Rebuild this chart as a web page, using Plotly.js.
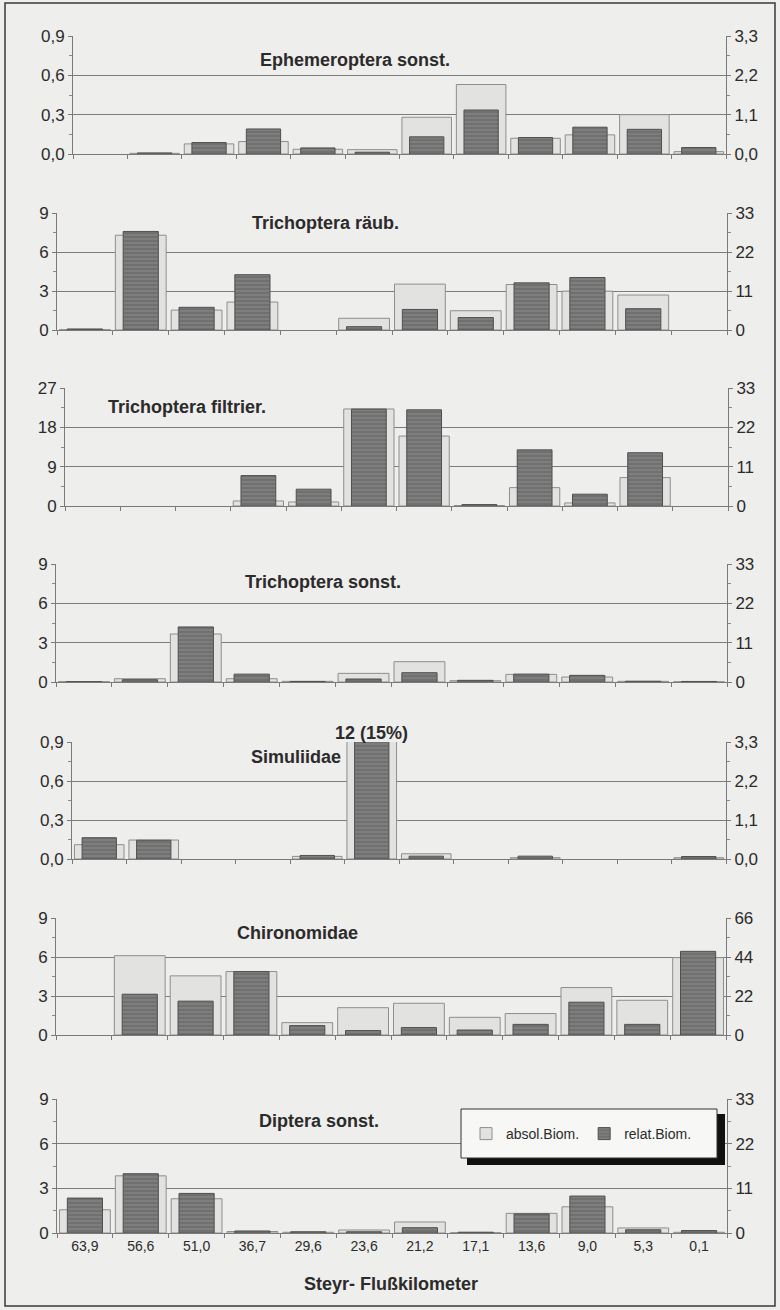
<!DOCTYPE html>
<html>
<head>
<meta charset="utf-8">
<script src="https://cdn.plot.ly/plotly-3.0.1.min.js"></script>
<style>
html,body{margin:0;padding:0;background:#eeeeec;}
#chart{width:780px;height:1310px;}
</style>
</head>
<body>
<div id="chart"></div>
<script>
// ---------- data ----------
const categories = ["63,9","56,6","51,0","36,7","29,6","23,6","21,2","17,1","13,6","9,0","5,3","0,1"];
const panelTitles = ["Ephemeroptera sonst.","Trichoptera räub.","Trichoptera filtrier.","Trichoptera sonst.","Simuliidae","Chironomidae","Diptera sonst."];
const seriesNames = ["absol.Biom.","relat.Biom."];

const ephemAbs = [0, 0.005, 0.077, 0.095, 0.036, 0.033, 0.28, 0.53, 0.12, 0.146, 0.30, 0.018];
const ephemRel = [0, 0.03, 0.32, 0.70, 0.17, 0.05, 0.48, 1.23, 0.46, 0.75, 0.69, 0.18];

const traeubAbs = [0.03, 7.29, 1.53, 2.15, 0, 0.9, 3.53, 1.48, 3.5, 2.99, 2.69, 0];
const traeubRel = [0.3, 27.8, 6.4, 15.6, 0, 0.94, 5.8, 3.5, 13.3, 14.8, 6.0, 0];

const tfiltAbs = [0, 0, 0, 1.15, 0.92, 22.2, 16.0, 0.1, 4.2, 0.7, 6.5, 0];
const tfiltRel = [0, 0, 0, 8.5, 4.7, 27.1, 26.9, 0.4, 15.7, 3.3, 14.9, 0];

const tsonstAbs = [0.03, 0.25, 3.66, 0.25, 0.05, 0.66, 1.55, 0.1, 0.58, 0.38, 0.05, 0.02];
const tsonstRel = [0.1, 0.65, 15.4, 2.2, 0.15, 0.84, 2.6, 0.47, 2.2, 1.86, 0.2, 0.15];

const simAbs = [0.11, 0.146, 0, 0, 0.02, 12, 0.04, 0, 0.01, 0, 0, 0.01];
const simRel = [0.6, 0.53, 0, 0, 0.1, 15, 0.08, 0, 0.08, 0, 0, 0.07];

const chiroAbs = [0, 6.1, 4.55, 4.88, 0.95, 2.1, 2.44, 1.36, 1.65, 3.65, 2.67, 5.95];
const chiroRel = [0, 23.0, 19.1, 35.8, 5.3, 2.5, 4.2, 2.8, 6.0, 18.5, 6.0, 47.2];

const dipAbs = [1.56, 3.84, 2.3, 0.1, 0.05, 0.2, 0.74, 0.02, 1.32, 1.76, 0.34, 0.05];
const dipRel = [8.6, 14.6, 9.75, 0.5, 0.3, 0.3, 1.3, 0.2, 4.7, 9.1, 0.8, 0.6];

const absSeries = [ephemAbs, traeubAbs, tfiltAbs, tsonstAbs, simAbs, chiroAbs, dipAbs];
const relSeries = [ephemRel, traeubRel, tfiltRel, tsonstRel, simRel, chiroRel, dipRel];

const leftMax  = [0.9, 9, 27, 9, 0.9, 9, 9];
const leftStep = [0.3, 3, 9, 3, 0.3, 3, 3];
const rightMax  = [3.3, 33, 33, 33, 3.3, 66, 33];
const rightStep = [1.1, 11, 11, 11, 1.1, 22, 11];
const offScaleNote = "12 (15%)";
const xAxisTitle = "Steyr- Flußkilometer";

// ---------- layout geometry (pixels) ----------
const W = 780, H = 1310;
const geom = [
  {l:73, r:726, t:36,   b:154,  tx:355, ty:60},
  {l:57, r:727, t:213,  b:330,  tx:325, ty:223},
  {l:65, r:728, t:388,  b:506,  tx:187, ty:407},
  {l:56, r:727, t:564,  b:682,  tx:323, ty:582},
  {l:72, r:726, t:742,  b:859,  tx:296, ty:757},
  {l:56, r:726, t:918,  b:1035, tx:297, ty:933},
  {l:57, r:727, t:1099, b:1233, tx:319, ty:1121}
];
const px = x => x / W;
const py = y => 1 - y / H;
const hideZero = arr => arr.map(v => (v === 0 ? null : v));

const FONT = "Liberation Sans, Arial, sans-serif";
const txtColor = "#2b2b2b";
const lightFill = "#e2e2e0", lightLine = "#8e8e8e";
const darkFill = "#707070", darkLine = "#505050";

const traces = [];
const layout = {
  width: W, height: H,
  margin: {l:0, r:0, t:0, b:0},
  paper_bgcolor: "#eeeeec",
  plot_bgcolor: "#eeeeec",
  separators: ",.",
  barmode: "overlay",
  showlegend: true,
  font: {family: FONT, color: txtColor},
  annotations: [],
  shapes: []
};

for (let i = 0; i < 7; i++) {
  const g = geom[i];
  const xn = i === 0 ? "" : String(i + 1);
  const yl = String(2 * i + 1), yr = String(2 * i + 2);
  const xKey = "xaxis" + xn, ylKey = "yaxis" + (yl === "1" ? "" : yl), yrKey = "yaxis" + yr;
  const xRef = "x" + xn, ylRef = "y" + (yl === "1" ? "" : yl), yrRef = "y" + yr;
  const isLast = i === 6;
  const decimals = leftStep[i] < 1 ? ".1f" : "d";
  const rdec = rightStep[i] < 2 ? ".1f" : "d";

  layout[xKey] = {
    domain: [px(g.l), px(g.r)],
    anchor: ylRef,
    type: "category",
    categoryorder: "array",
    categoryarray: categories,
    range: [-0.5, 11.5],
    tickson: "boundaries",
    ticks: "outside", ticklen: 4, tickcolor: "#7a7a7a",
    showline: true, linecolor: "#7a7a7a", linewidth: 1,
    showgrid: false, zeroline: false,
    showticklabels: isLast,
    tickfont: {family: FONT, size: 14, color: txtColor},
    fixedrange: true
  };
  layout[ylKey] = {
    domain: [py(g.b), py(g.t)],
    anchor: xRef,
    range: [0, leftMax[i]],
    tick0: 0, dtick: leftStep[i],
    tickformat: decimals,
    showgrid: true, gridcolor: "#7c7c7c", gridwidth: 1,
    zeroline: false,
    showline: true, linecolor: "#7a7a7a", linewidth: 1,
    ticks: "outside", ticklen: 4, tickcolor: "#7a7a7a",
    minor: {ticks: "outside", ticklen: 3, tickcolor: "#8a8a8a", dtick: leftStep[i] / 2, tick0: 0, showgrid: false},
    tickfont: {family: FONT, size: 17, color: txtColor},
    fixedrange: true
  };
  layout[yrKey] = {
    overlaying: ylRef,
    anchor: xRef,
    side: "right",
    range: [0, rightMax[i]],
    tick0: 0, dtick: rightStep[i],
    tickformat: rdec,
    showgrid: false, zeroline: false,
    showline: true, linecolor: "#7a7a7a", linewidth: 1,
    ticks: "outside", ticklen: 4, tickcolor: "#7a7a7a",
    minor: {ticks: "outside", ticklen: 3, tickcolor: "#8a8a8a", dtick: rightStep[i] / 2, tick0: 0, showgrid: false},
    tickfont: {family: FONT, size: 17, color: txtColor},
    fixedrange: true
  };

  traces.push({
    type: "bar", name: seriesNames[0],
    x: categories, y: hideZero(absSeries[i]),
    xaxis: xRef, yaxis: ylRef,
    width: 0.91,
    marker: {color: lightFill, line: {color: lightLine, width: 1}},
    showlegend: isLast, legendrank: 1,
    hoverinfo: "x+y"
  });
  traces.push({
    type: "bar", name: seriesNames[1],
    x: categories, y: hideZero(relSeries[i]),
    xaxis: xRef, yaxis: yrRef,
    width: 0.63,
    marker: {color: darkFill, line: {color: darkLine, width: 1},
             pattern: {shape: "-", fgcolor: "#8c8c8c", bgcolor: darkFill, size: 4, solidity: 0.25}},
    showlegend: isLast, legendrank: 2,
    hoverinfo: "x+y"
  });

  layout.annotations.push({
    xref: "paper", yref: "paper",
    x: px(g.tx), y: py(g.ty),
    xanchor: "center", yanchor: "middle",
    text: "<b>" + panelTitles[i] + "</b>",
    showarrow: false,
    font: {family: FONT, size: 18, color: txtColor}
  });
}

// off-scale note above the Simuliidae bar
layout.annotations.push({
  xref: "x5", yref: "paper",
  x: categories[5], y: py(733),
  xanchor: "center", yanchor: "middle",
  text: "<b>" + offScaleNote + "</b>",
  showarrow: false,
  font: {family: FONT, size: 18, color: txtColor}
});

// x axis title
layout.annotations.push({
  xref: "paper", yref: "paper",
  x: px(391), y: py(1284),
  xanchor: "center", yanchor: "middle",
  text: "<b>" + xAxisTitle + "</b>",
  showarrow: false,
  font: {family: FONT, size: 18, color: txtColor}
});

// legend box with shadow, and outer frame
layout.shapes.push({type: "rect", xref: "paper", yref: "paper", layer: "above",
  x0: px(467), x1: px(725), y0: py(1165), y1: py(1114),
  fillcolor: "#111111", line: {width: 0}});
layout.shapes.push({type: "rect", xref: "paper", yref: "paper", layer: "above",
  x0: px(461), x1: px(717), y0: py(1158), y1: py(1109),
  fillcolor: "#f7f7f5", line: {color: "#333333", width: 1}});
layout.shapes.push({type: "rect", xref: "paper", yref: "paper", layer: "above",
  x0: px(5), x1: px(775), y0: py(1306), y1: py(3),
  fillcolor: "rgba(0,0,0,0)", line: {color: "#3a3a3a", width: 1.5}});

layout.legend = {
  orientation: "h",
  x: px(466), y: py(1118),
  xanchor: "left", yanchor: "top",
  bgcolor: "rgba(0,0,0,0)", borderwidth: 0,
  itemwidth: 30,
  traceorder: "normal",
  font: {family: FONT, size: 14, color: txtColor}
};

Plotly.newPlot("chart", traces, layout, {staticPlot: true, displayModeBar: false});
</script>
</body>
</html>
